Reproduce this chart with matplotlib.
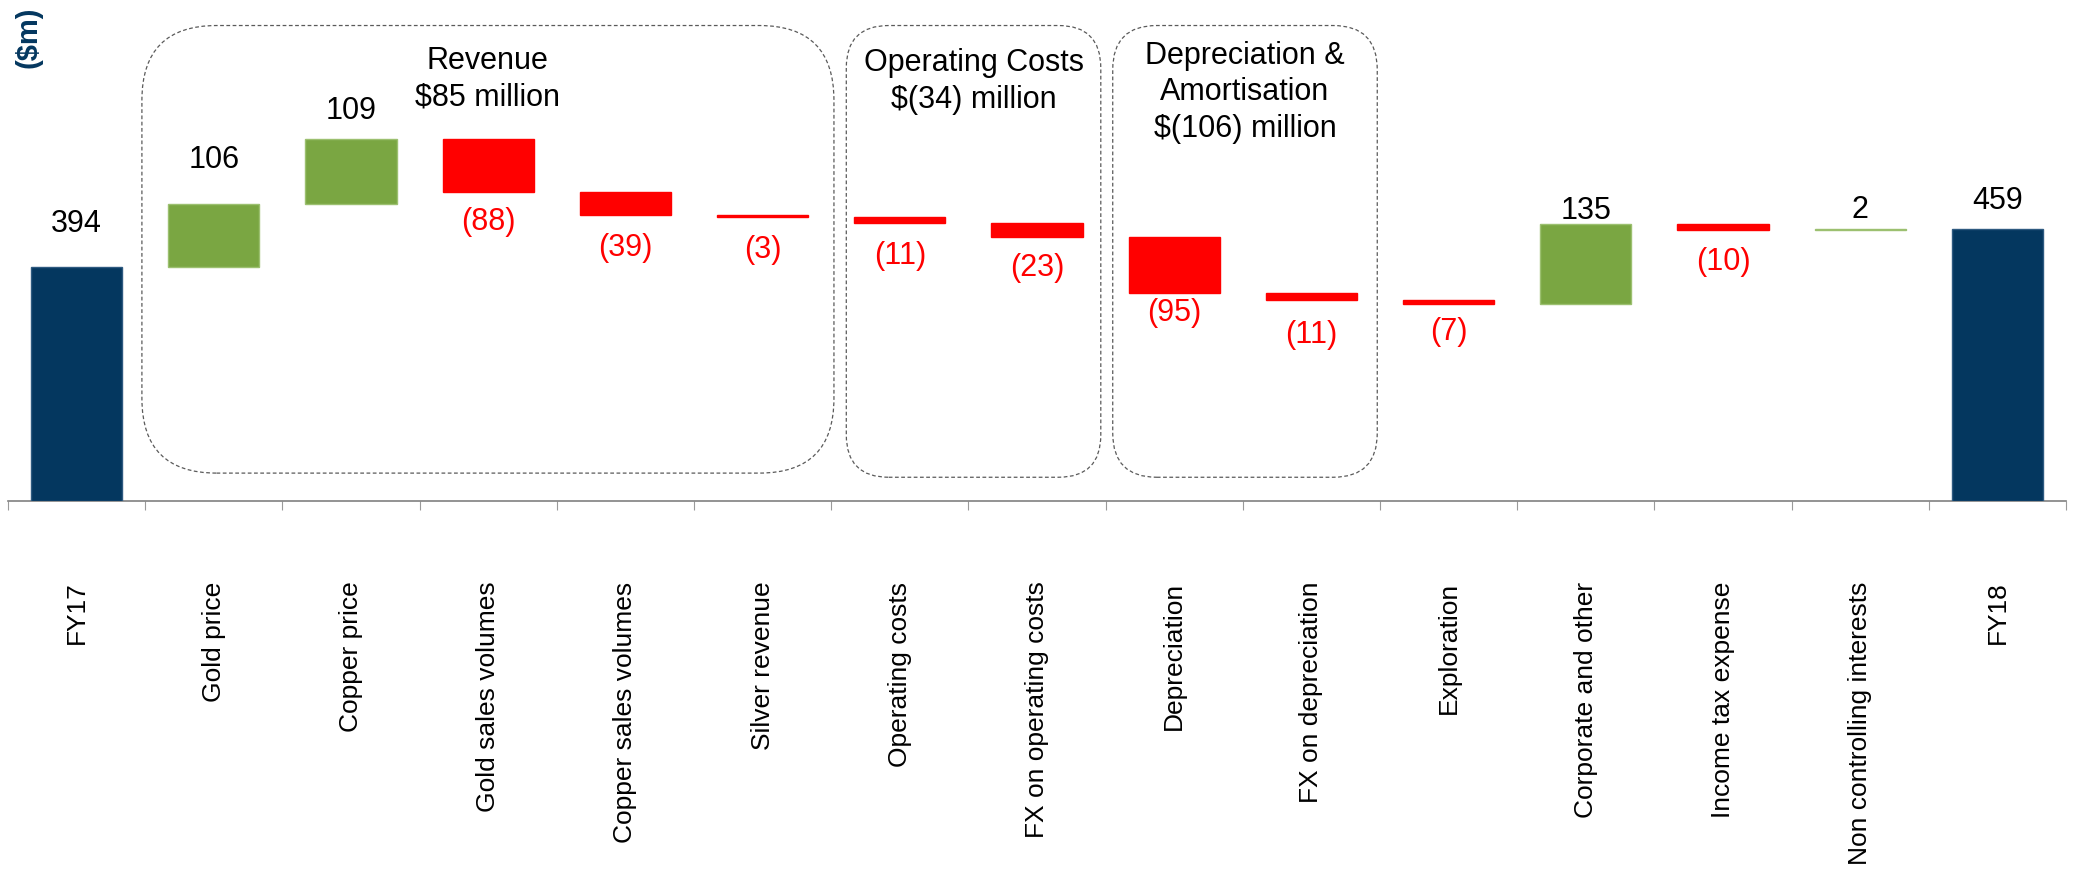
import numpy as np
import matplotlib.pyplot as plt
from matplotlib.patches import FancyBboxPatch
from matplotlib.transforms import IdentityTransform

plt.rcParams['font.family'] = ['Liberation Sans', 'DejaVu Sans']

# ---- data ($m) ----
categories = ['FY17', 'Gold price', 'Copper price', 'Gold sales volumes',
              'Copper sales volumes', 'Silver revenue', 'Operating costs',
              'FX on operating costs', 'Depreciation', 'FX on depreciation',
              'Exploration', 'Corporate and other', 'Income tax expense',
              'Non controlling interests', 'FY18']
opening = 394
changes = [106, 109, -88, -39, -3, -11, -23, -95, -11, -7, 135, -10, 2]
closing = 459

# bracketed groups: (name, first index, last index)
groups = [('Revenue', 1, 5),
          ('Operating Costs', 6, 7),
          ('Depreciation &\nAmortisation', 8, 9)]

# ---- layout / style ----
NAVY = '#04375F'
GREEN = '#7AA642'
RED = '#FF0000'
# gap (px) between bar edge and the centre of its value label
label_gap = [43, 44, 28, 30, 33, 33, 33, 31, 20, 35, 28, 13, 32, 19, 28]
# dashed box extents in data units: left, right, bottom, top, title top
box_geom = [(0.476, 5.52, 47, 801, 767),
            (5.61, 7.465, 40, 801, 763),
            (7.552, 9.48, 40, 801, 775)]

values = [opening] + changes + [closing]
n = len(values)
x = np.arange(n)

# waterfall bottoms / heights
bottoms, heights, colors = [], [], []
running = opening
bottoms.append(0); heights.append(opening); colors.append(NAVY)
for c in changes:
    new = running + c
    bottoms.append(min(running, new))
    heights.append(abs(c))
    colors.append(GREEN if c > 0 else RED)
    running = new
bottoms.append(0); heights.append(closing); colors.append(NAVY)

fig = plt.figure(figsize=(20.76, 8.92), dpi=100)
ax = fig.add_axes([8 / 2076, 1 - 501 / 892, 2058 / 2076, 501 / 892])

edge = {NAVY: '#2E5A80', GREEN: '#9CC070', RED: RED}
ax.bar(x, heights, bottom=bottoms, width=0.665, color=colors,
       edgecolor=[edge[c] for c in colors], linewidth=1.0, zorder=3)

ax.set_xlim(-0.5, n - 0.5)
ax.set_ylim(0, 844)

# value labels
for i, v in enumerate(values):
    gap = label_gap[i] * 0.72
    if i in (0, n - 1) or v > 0:
        ax.annotate(str(v), (x[i], bottoms[i] + heights[i]), xytext=(0, gap),
                    textcoords='offset points', ha='center', va='center',
                    fontsize=22, color='black')
    else:
        ax.annotate('(%d)' % abs(v), (x[i], bottoms[i]), xytext=(0, -gap),
                    textcoords='offset points', ha='center', va='center',
                    fontsize=22, color=RED)

# axes styling
for s in ['top', 'right', 'left']:
    ax.spines[s].set_visible(False)
ax.spines['bottom'].set_color('#808080')
ax.spines['bottom'].set_linewidth(1.2)
ax.set_yticks([])
ax.set_xticks(x)
ax.set_xticklabels(categories, rotation=90, fontsize=19)
ax.tick_params(axis='x', which='major', length=0, pad=58)
ax.set_xticks(np.arange(n + 1) - 0.5, minor=True)
ax.tick_params(axis='x', which='minor', length=6.5, width=0.8, color='#9A9A9A')

fig.text(28 / 2076, 1 - 6 / 892, '($m)', rotation=90, ha='center', va='top',
         fontsize=21, fontweight='bold', color=NAVY)

# dashed rounded boxes around the grouped drivers, titled with their totals
fig.canvas.draw()
for (name, i0, i1), (x0, x1, y0, y1, ty) in zip(groups, box_geom):
    total = sum(changes[i0 - 1:i1])
    amt = '$%d million' % total if total >= 0 else '$(%d) million' % abs(total)
    px0, py0 = ax.transData.transform((x0, y0))
    px1, py1 = ax.transData.transform((x1, y1))
    w, h = px1 - px0, py1 - py0
    r = 0.1667 * min(w, h)
    box = FancyBboxPatch((px0, py0), w, h,
                         boxstyle='round,pad=0,rounding_size=%f' % r,
                         transform=IdentityTransform(), fill=False,
                         edgecolor='#5A5A5A', linewidth=0.9,
                         linestyle=(0, (3, 2)))
    fig.add_artist(box)
    ax.text((x0 + x1) / 2, ty, name + '\n' + amt, ha='center', va='top',
            fontsize=22, linespacing=1.28, color='black')

fig.savefig('out.png', dpi=100)
